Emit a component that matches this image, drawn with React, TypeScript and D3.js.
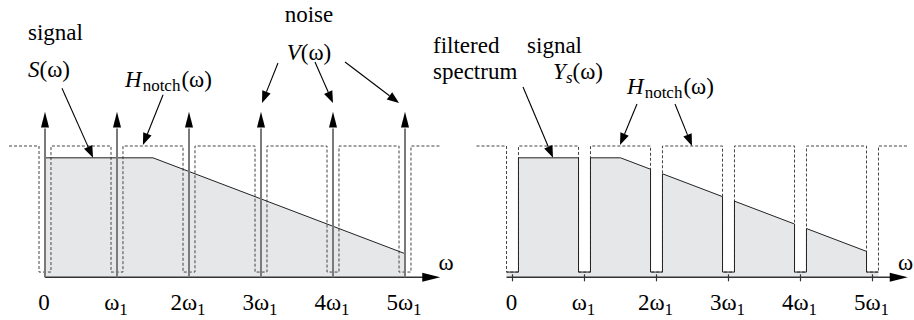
import React from "react";
import * as d3 from "d3";

// ---------- data ----------
const harmonics = [0, 1, 2, 3, 4, 5];
const tickPrefix = ["0", "ω", "2ω", "3ω", "4ω", "5ω"];
const tickSub = ["", "1", "1", "1", "1", "1"];
const signalOmega = [0, 1.5, 5];
const signalMag = [0.91, 0.91, 0.18];
const notchHalfWidth = 0.083;
const notchFloor = 0.04;
const passGain = 1;
const impulseTip = 1.26;
const impulseHeadBase = 1.14;
const omegaExtent = [-0.5, 5.5];
const axisTip = 5.49;

// annotation arrows in (ω, magnitude) units: [fromω, fromMag, toω, toMag]
const leftArrows = [
  [0.236, 1.44, 0.667, 0.91],
  [1.64, 1.39, 1.36, 1.007],
  [3.236, 1.632, 3.014, 1.327],
  [3.75, 1.64, 4.0, 1.327],
  [4.167, 1.64, 4.917, 1.327],
];
const rightArrows = [
  [0.146, 1.449, 0.5625, 0.91],
  [1.729, 1.32, 1.493, 1.007],
  [2.257, 1.32, 2.493, 1.0],
];

const FONT = "'Liberation Serif', 'Times New Roman', serif";
const FILL = "#e6e7e9";
const FS = 23;
const SUB = 17;

const y = d3.scaleLinear().domain([0, 1]).range([277.3, 146]);
const xL = d3.scaleLinear().domain([0, 5]).range([45, 405]);
const xR = d3.scaleLinear().domain([0, 5]).range([512.5, 872.5]);

const S = d3.scaleLinear().domain(signalOmega).range(signalMag).clamp(true);

function hPoints(): [number, number][] {
  const pts: [number, number][] = [[omegaExtent[0], passGain]];
  harmonics.forEach((k) => {
    pts.push([k - notchHalfWidth, passGain]);
    pts.push([k - notchHalfWidth, notchFloor]);
    pts.push([k + notchHalfWidth, notchFloor]);
    pts.push([k + notchHalfWidth, passGain]);
  });
  pts.push([omegaExtent[1], passGain]);
  return pts;
}

function ysPoints(): [number, number][] {
  const pts: [number, number][] = [];
  const h = notchHalfWidth;
  harmonics.forEach((k, i) => {
    if (i > 0) {
      const a = harmonics[i - 1] + h;
      const b = k - h;
      signalOmega.forEach((w) => {
        if (w > a && w < b) pts.push([w, S(w)]);
      });
      pts.push([b, S(b)]);
    }
    pts.push([k - h, notchFloor]);
    pts.push([k + h, notchFloor]);
    if (i < harmonics.length - 1) pts.push([k + h, S(k + h)]);
  });
  return pts;
}

function Arrow({ x1, y1, x2, y2, len = 12, w = 4.5, color = "#000" }: any) {
  const ang = Math.atan2(y2 - y1, x2 - x1);
  const bx = x2 - len * Math.cos(ang);
  const by = y2 - len * Math.sin(ang);
  const px = -Math.sin(ang) * w;
  const py = Math.cos(ang) * w;
  return (
    <g>
      <line x1={x1} y1={y1} x2={bx} y2={by} stroke={color} strokeWidth={1.1} />
      <path d={`M${x2},${y2}L${bx + px},${by + py}L${bx - px},${by - py}Z`} fill={color} />
    </g>
  );
}

const txt = { fontFamily: FONT, fontSize: FS, fill: "#000" };
const subStyle = { fontSize: SUB };
const ital = { fontStyle: "italic" as const };

function TickLabel({ x, i }: { x: number; i: number }) {
  return (
    <text x={x - 1} y={310} textAnchor="middle" style={txt}>
      {tickPrefix[i]}
      {tickSub[i] && (
        <tspan style={subStyle} dy={5}>
          {tickSub[i]}
        </tspan>
      )}
    </text>
  );
}

function Panel({ x, left }: { x: d3.ScaleLinear<number, number>; left: boolean }) {
  const line = d3.line<[number, number]>().x((d) => x(d[0])).y((d) => y(d[1]));
  const y0 = y(0);
  const h = notchHalfWidth;

  let fillPts: [number, number][];
  let outlinePts: [number, number][];
  if (left) {
    const sig: [number, number][] = signalOmega.map((w, i) => [w, signalMag[i]]);
    outlinePts = [[0, 0], ...sig, [5, 0]];
    fillPts = outlinePts;
  } else {
    const ys = ysPoints();
    outlinePts = ys;
    fillPts = [[-h, 0], ...ys, [5 + h, 0]];
  }
  const axisStart = left ? 0 : -h;
  const tipX = x(axisTip);

  return (
    <g>
      <path d={line(fillPts) + "Z"} fill={FILL} stroke="none" />
      <path d={line(hPoints()) || ""} fill="none" stroke="#444" strokeWidth={1} strokeDasharray="3,2" />
      <path d={line(outlinePts) || ""} fill="none" stroke="#222" strokeWidth={1} />
      <line x1={x(axisStart)} y1={y0} x2={tipX - 14} y2={y0} stroke="#333" strokeWidth={1.6} />
      <path d={`M${tipX},${y0}L${tipX - 18},${y0 - 4.5}L${tipX - 18},${y0 + 4.5}Z`} fill="#000" />
      {!left &&
        harmonics.map((k) => (
          <line key={k} x1={x(k)} x2={x(k)} y1={y0 - 3} y2={y0 + 4} stroke="#333" strokeWidth={1.2} />
        ))}
      {left &&
        harmonics.map((k) => (
          <g key={k}>
            <line x1={x(k)} x2={x(k)} y1={y0} y2={y(impulseHeadBase) + 1} stroke="#7a7a7a" strokeWidth={2} />
            <path
              d={`M${x(k)},${y(impulseTip)}L${x(k) - 4},${y(impulseHeadBase)}L${x(k) + 4},${y(impulseHeadBase)}Z`}
              fill="#000"
            />
          </g>
        ))}
      {harmonics.map((k, i) => (
        <TickLabel key={k} x={x(k)} i={i} />
      ))}
      {(left ? leftArrows : rightArrows).map((a, i) => (
        <Arrow key={i} x1={x(a[0])} y1={y(a[1])} x2={x(a[2])} y2={y(a[3])} />
      ))}
    </g>
  );
}

function HNotch({ x, y: yy }: { x: number; y: number }) {
  return (
    <text x={x} y={yy} style={txt}>
      <tspan style={ital}>H</tspan>
      <tspan style={subStyle} dx={1} dy={4}>notch</tspan>
      <tspan dx={1} dy={-4}>(ω)</tspan>
    </text>
  );
}

export default function App() {
  return (
    <svg
      width={914}
      height={320}
      style={{ position: "absolute", left: 0, top: 0, background: "#fff" }}
    >
      <Panel x={xL} left={true} />
      <Panel x={xR} left={false} />
      <text x={28} y={40} style={txt}>signal</text>
      <text x={28} y={77} style={txt}>
        <tspan style={ital}>S</tspan>(ω)
      </text>
      <HNotch x={125} y={87} />
      <text x={309} y={22} textAnchor="middle" style={txt}>noise</text>
      <text x={309} y={60} textAnchor="middle" style={txt}>
        <tspan style={ital}>V</tspan>(ω)
      </text>
      <text x={446} y={270} textAnchor="middle" style={txt}>ω</text>
      <text x={433} y={53} style={txt}>filtered</text>
      <text x={582} y={53} textAnchor="end" style={txt}>signal</text>
      <text x={433} y={79} style={txt}>spectrum</text>
      <text x={603} y={79} textAnchor="end" style={txt}>
        <tspan style={ital}>Y</tspan>
        <tspan style={{ ...subStyle, fontStyle: "italic" }} dy={4}>s</tspan>
        <tspan dy={-4}>(ω)</tspan>
      </text>
      <HNotch x={627} y={94} />
      <text x={898} y={270} style={txt}>ω</text>
    </svg>
  );
}
